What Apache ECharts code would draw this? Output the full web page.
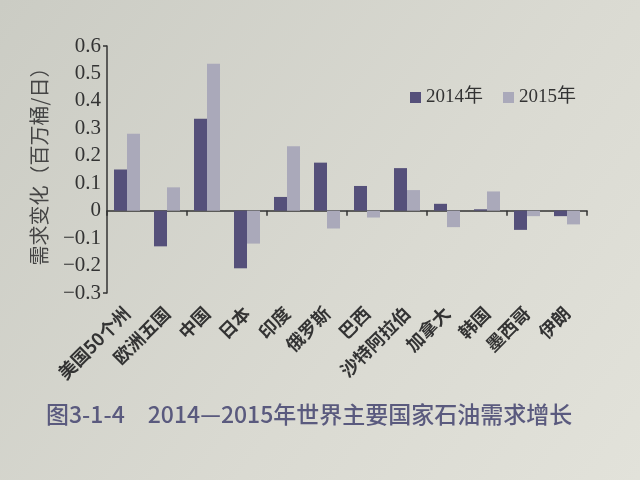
<!DOCTYPE html>
<html><head><meta charset="utf-8">
<script src="https://cdn.jsdelivr.net/npm/echarts@6/dist/echarts.min.js"></script>
<style>html,body{margin:0;padding:0;background:#d8d8d0}#c{width:640px;height:480px}</style>
</head><body><div id="c"></div>
<script>
const categories = ['美国50个州','欧洲五国','中国','日本','印度','俄罗斯','巴西','沙特阿拉伯','加拿大','韩国','墨西哥','伊朗'];
const values2014 = [0.15, -0.13, 0.335, -0.21, 0.05, 0.175, 0.09, 0.155, 0.025, 0.005, -0.07, -0.02];
const values2015 = [0.28, 0.085, 0.535, -0.12, 0.235, -0.065, -0.025, 0.075, -0.06, 0.07, -0.02, -0.05];
const seriesNames = ['2014年', '2015年'];
const yMin = -0.3, yMax = 0.6, yStep = 0.1;
const yAxisTitle = '需求变化（百万桶/日）';
const caption = '图3-1-4　2014—2015年世界主要国家石油需求增长';

const chart = echarts.init(document.getElementById('c'), null, {renderer: 'canvas'});
chart.setOption({
  backgroundColor: {type: 'linear', x: 0, y: 0, x2: 1, y2: 1,
    colorStops: [{offset: 0, color: '#cbccc4'}, {offset: 0.6, color: '#dadad2'}, {offset: 1, color: '#e2e2da'}]},
  animation: false,
  title: {text: caption, left: 41, top: 398,
    textStyle: {fontFamily: 'Noto Sans CJK SC', fontSize: 23, fontWeight: 500, color: '#5a5a7e'}},
  legend: {data: seriesNames, left: 405, top: 83, itemWidth: 11, itemHeight: 11, itemGap: 20,
    icon: 'rect',
    textStyle: {fontFamily: 'Liberation Serif, Noto Sans CJK SC', fontSize: 19, color: '#333'}},
  grid: {left: 107, right: 53, top: 46, bottom: 187, containLabel: false},
  xAxis: [{
    type: 'category', data: categories, position: 'bottom',
    axisLine: {show: false, onZero: false}, axisTick: {show: false},
    axisLabel: {rotate: 45, interval: 0, margin: 17, fontFamily: 'Noto Sans CJK SC', fontWeight: 'bold', fontSize: 18, color: '#333'}
  }, {
    type: 'category', data: categories, position: 'bottom',
    axisLine: {show: true, onZero: true, lineStyle: {color: '#333', width: 1.5}},
    axisTick: {show: true, alignWithLabel: false, length: 5, lineStyle: {color: '#333', width: 1.5}},
    axisLabel: {show: false}
  }],
  yAxis: {
    type: 'value', min: yMin, max: yMax, interval: yStep,
    name: yAxisTitle, nameLocation: 'middle', nameGap: 58, nameRotate: 90,
    nameTextStyle: {fontFamily: 'Noto Sans CJK SC', fontSize: 20, color: '#444', padding: [0, 0, 0, 16]},
    axisLine: {show: true, lineStyle: {color: '#333', width: 1.5}},
    axisTick: {show: true, length: 4, customValues: [yMin, yMax], lineStyle: {color: '#333', width: 1.5}},
    splitLine: {show: false},
    axisLabel: {margin: 6, fontFamily: 'Liberation Serif', fontSize: 21, color: '#333',
      formatter: v => (Math.round(v * 10) / 10).toString().replace('-', '−')}
  },
  series: [
    {name: seriesNames[0], type: 'bar', data: values2014, barWidth: 13, barGap: '0%', itemStyle: {color: '#55507a'}},
    {name: seriesNames[1], type: 'bar', data: values2015, barWidth: 13, itemStyle: {color: '#aaa9ba'}}
  ]
});
</script></body></html>
